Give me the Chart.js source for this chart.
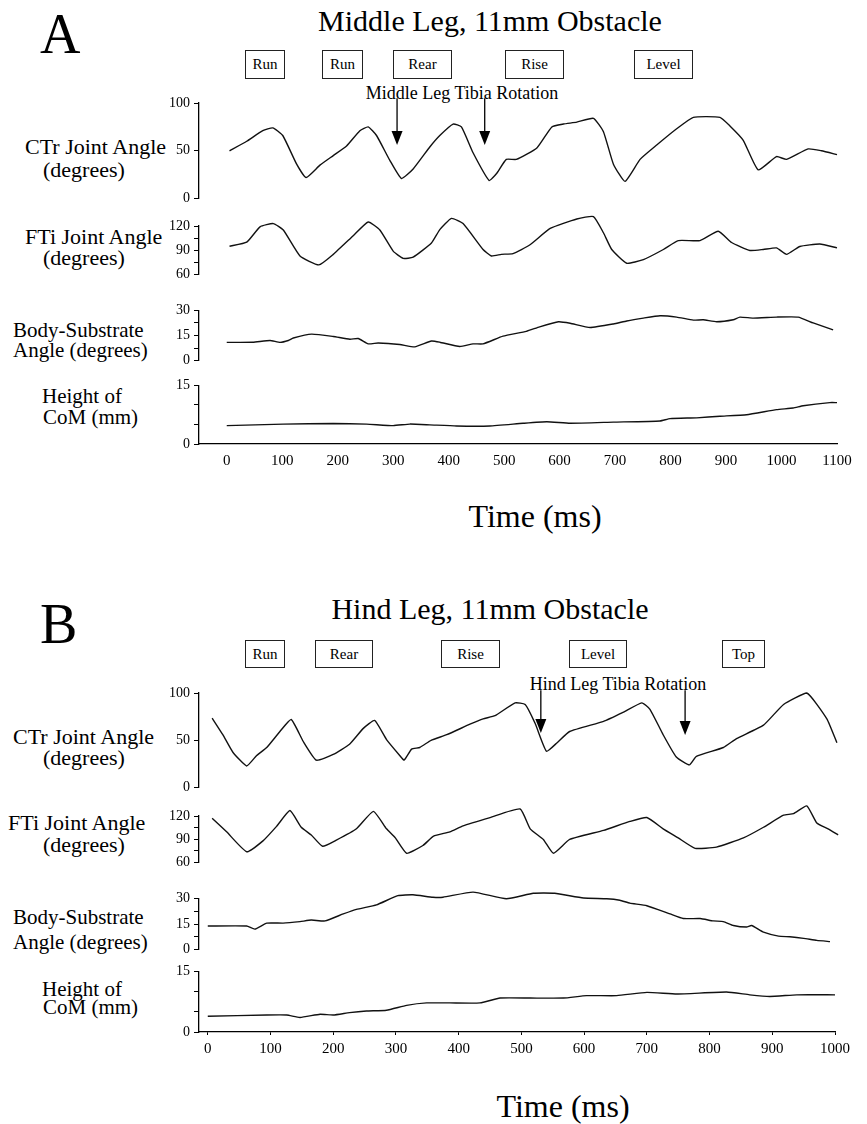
<!DOCTYPE html>
<html>
<head>
<meta charset="utf-8">
<script src="https://cdn.jsdelivr.net/npm/chart.js@4.4.0/dist/chart.umd.min.js"></script>
<style>
body { margin: 0; background: #fff; }
#page { position: relative; width: 867px; height: 1124px; overflow: hidden; font-family: "Liberation Serif", "Times New Roman", serif; color: #000; }
.t { position: absolute; white-space: nowrap; line-height: 1; }
.c { transform: translateX(-50%); }
.box { position: absolute; border: 1.5px solid #222; box-sizing: border-box; font-size: 15px; display: flex; align-items: center; justify-content: center; }
canvas { position: absolute; }
</style>
</head>
<body>
<div id="page">
  <div class="t" style="left:40px;top:6px;font-size:56px">A</div>
  <div class="t c" style="left:490px;top:6px;font-size:30px">Middle Leg, 11mm Obstacle</div>
  <div class="box" style="left:245px;top:50px;width:40px;height:29px">Run</div>
  <div class="box" style="left:322px;top:50px;width:41px;height:29px">Run</div>
  <div class="box" style="left:393px;top:50px;width:59px;height:29px">Rear</div>
  <div class="box" style="left:505px;top:50px;width:59px;height:29px">Rise</div>
  <div class="box" style="left:634px;top:50px;width:59px;height:29px">Level</div>
  <div class="t c" style="left:462px;top:84px;font-size:18px">Middle Leg Tibia Rotation</div>

  <div class="t" style="left:25px;top:136px;font-size:22px">CTr Joint Angle</div>
  <div class="t" style="left:43px;top:159px;font-size:22px">(degrees)</div>
  <div class="t" style="left:25px;top:226px;font-size:22px">FTi Joint Angle</div>
  <div class="t" style="left:43px;top:247px;font-size:22px">(degrees)</div>
  <div class="t" style="left:13px;top:320px;font-size:21px">Body-Substrate</div>
  <div class="t" style="left:13px;top:340px;font-size:21px">Angle (degrees)</div>
  <div class="t" style="left:42px;top:386px;font-size:21px">Height of</div>
  <div class="t" style="left:43px;top:407px;font-size:21px">CoM (mm)</div>
  <div class="t c" style="left:535px;top:500px;font-size:32px">Time (ms)</div>

  <div class="t" style="left:40px;top:596px;font-size:56px">B</div>
  <div class="t c" style="left:490px;top:594px;font-size:30px">Hind Leg, 11mm Obstacle</div>
  <div class="box" style="left:245px;top:640px;width:40px;height:28px">Run</div>
  <div class="box" style="left:315px;top:640px;width:58px;height:28px">Rear</div>
  <div class="box" style="left:441px;top:640px;width:59px;height:28px">Rise</div>
  <div class="box" style="left:569px;top:640px;width:58px;height:28px">Level</div>
  <div class="box" style="left:722px;top:640px;width:43px;height:28px">Top</div>
  <div class="t c" style="left:618px;top:675px;font-size:18px">Hind Leg Tibia Rotation</div>

  <div class="t" style="left:13px;top:726px;font-size:22px">CTr Joint Angle</div>
  <div class="t" style="left:43px;top:747px;font-size:22px">(degrees)</div>
  <div class="t" style="left:8px;top:812px;font-size:22px">FTi Joint Angle</div>
  <div class="t" style="left:43px;top:834px;font-size:22px">(degrees)</div>
  <div class="t" style="left:13px;top:907px;font-size:21px">Body-Substrate</div>
  <div class="t" style="left:13px;top:932px;font-size:21px">Angle (degrees)</div>
  <div class="t" style="left:42px;top:979px;font-size:21px">Height of</div>
  <div class="t" style="left:43px;top:997px;font-size:21px">CoM (mm)</div>
  <div class="t c" style="left:563px;top:1090px;font-size:32px">Time (ms)</div>
</div>

<script>
// ---- data (time in ms) ----
// A: middle leg
var ctrA_t = [5,36,65,83,101,126,143,168,192,216,240,255,270,294,315,336,366,384,408,423,444,473,486,504,522,559,586,607,631,661,679,697,718,745,775,811,841,889,907,931,958,991,1009,1048,1072,1100]
var ctrA_v = [50,60,71,74,66,36,22,35,45,55,71,75,66,40,21,31,54,66,78,75,48,19,26,41,41,53,75,78,80,84,70,36,18,41,56,73,85,85,76,61,30,44,41,52,50,46]

var ftiA_t = [5,36,60,84,102,132,166,192,228,255,276,300,318,336,369,384,405,426,462,477,495,516,546,583,631,661,679,694,721,751,787,814,853,886,910,943,967,991,1009,1033,1069,1100]
var ftiA_v = [95,100,119,123,115,83,72,85,108,125,115,89,80,81.5,99,115.5,129.4,123,91,83,85,86,96.5,117,128.7,131.7,111.7,91,74,78.5,91,102,102,113.5,99.6,89.8,91,93,85,94.7,97.7,93]

var bodyA_t = [0,47,78,96,111,120,153,192,222,237,255,273,312,339,369,384,420,444,462,498,540,564,598,619,655,697,721,751,781,811,841,859,883,913,925,949,991,1030,1057,1093]
var bodyA_v = [10.9,11,12,10.9,12,13.5,15.8,14.4,12.8,13.2,10,10.5,9.6,8.2,11.7,11,8.4,10,10,14.6,17.5,20.2,23.2,22.3,19.8,21.9,23.7,25.4,26.8,26,24.2,24.4,23.2,24.4,26,25.4,26,26,22.5,18.4]

var comA_t = [0,102,192,252,300,330,366,414,474,534,577,619,697,781,799,847,889,937,991,1021,1039,1087,1100]
var comA_v = [4.7,5.1,5.25,5.1,4.7,5.1,4.9,4.6,4.6,5.3,5.7,5.3,5.6,5.9,6.5,6.7,7.1,7.5,8.8,9.2,9.8,10.6,10.6]

// B: hind leg
var ctrB_t = [7,24,40,62,78,94,115,133,152,173,200,226,248,266,285,306,313,325,338,356,381,418,439,458,490,506,522,540,557,577,631,662,692,705,726,747,768,779,822,843,886,918,955,987,1003]
var ctrB_v = [73.4,55.9,37.4,22.9,34,42.4,59.3,72,49,29,35,45.8,62.6,71,50.8,34,29,40.7,42.4,50,55.9,67,72.7,76,89.6,87.9,67.7,38.4,47.5,59.3,70,79.5,89.6,82.8,55.9,32.3,24,33,42.4,51.8,66,87.9,100,72.7,47.5]

var ftiB_t = [7,30,62,88,110,131,149,165,183,205,237,264,285,299,317,343,360,386,407,450,498,514,535,551,577,631,673,700,726,750,777,811,854,886,918,934,955,971,989,1005]
var ftiB_v = [117,99.6,74,88,107,127,105.5,95.6,81,89,103.5,126,103.5,91.8,72,82,94,99.6,107.4,118,129,103.5,89.8,72,89.8,101.5,113,118,103.5,91.8,78.4,80,91.8,105.5,121,123,133,111,103.5,95.6]

var bodyB_t = [0,62,75,94,120,147,165,187,216,237,269,303,327,359,375,423,476,519,553,599,636,657,673,700,737,758,785,806,822,838,859,867,886,910,928,950,971,992]
var bodyB_v = [13.8,13.8,12,15.5,15.5,16.4,17.3,16.8,20.9,23.6,26.2,31.6,32.1,30.7,30.7,33.7,29.8,33,33,30.2,29.8,28.9,27.2,25.7,20.9,18.2,18.2,16.8,16.4,14.1,13.2,14.1,10.2,7.9,7.5,6.6,5.4,4.7]

var comB_t = [0,94,126,147,179,200,226,253,285,317,349,386,434,466,514,567,604,652,700,748,827,864,896,939,1000]
var comB_v = [3.9,4.2,4.2,3.6,4.4,4.2,4.8,5.2,5.4,6.6,7.2,7.2,7.2,8.4,8.4,8.4,9,9,9.8,9.4,9.9,9.2,8.8,9.2,9.2]

// time axis ticks
var xTicksA = [0,100,200,300,400,500,600,700,800,900,1000,1100]
var xTicksB = [0,100,200,300,400,500,600,700,800,900,1000]

// arrows marking tibia rotation (time, value at tip)
var tibiaA = [[307, 56], [465, 56]]
var tibiaB = [[531, 57.6], [761, 55.6]]

// ---- layout ----
var FONT = '"Liberation Serif", "Times New Roman", serif'
var panels = {
    A: { xMin: -50, xMax: 1100, right: 837, ticks: xTicksA },
    B: { xMin: -14, xMax: 1000, right: 835, ticks: xTicksB }
}

var arrowPlugin = {
    id: 'tibia',
    afterDatasetsDraw: function(chart, args, opts) {
        if (!opts.at) return
        var ctx = chart.ctx, x = chart.scales.x, y = chart.scales.y
        ctx.save()
        ctx.strokeStyle = '#000'
        ctx.fillStyle = '#000'
        ctx.lineWidth = 1.3
        opts.at.forEach(function(a) {
            var px = x.getPixelForValue(a[0])
            var tip = y.getPixelForValue(a[1])
            var top = y.getPixelForValue(opts.from)
            ctx.beginPath()
            ctx.moveTo(px, top)
            ctx.lineTo(px, tip - 12)
            ctx.stroke()
            ctx.beginPath()
            ctx.moveTo(px - 5.5, tip - 14)
            ctx.lineTo(px + 5.5, tip - 14)
            ctx.lineTo(px, tip)
            ctx.closePath()
            ctx.fill()
        })
        ctx.restore()
    }
}

function addPlot(p, top, bottom, t, v, yMin, yMax, step, shown, extra) {
    extra = extra || {}
    var panel = panels[p]
    var padTop = extra.padTop || 10
    var padBottom = extra.xAxis ? 0 : 8
    var xH = extra.xAxis ? 30 : 0
    var cv = document.createElement('canvas')
    var left = 150
    var w = panel.right + 20 - left
    var h = (bottom - top) + padTop + padBottom + xH
    cv.width = w
    cv.height = h
    cv.style.left = left + 'px'
    cv.style.top = (top - padTop) + 'px'
    document.getElementById('page').appendChild(cv)

    var pts = t.map(function(tt, i) { return { x: tt, y: v[i] } })

    new Chart(cv.getContext('2d'), {
        type: 'line',
        data: {
            datasets: [{
                data: pts,
                borderColor: '#111',
                borderWidth: 1.4,
                pointRadius: 0,
                tension: 0.15,
                clip: false
            }]
        },
        options: {
            responsive: false,
            animation: false,
            devicePixelRatio: 1,
            layout: { padding: { top: padTop, bottom: padBottom, left: 0, right: 20 } },
            plugins: {
                legend: { display: false },
                tooltip: { enabled: false },
                tibia: extra.arrows ? { at: extra.arrows, from: extra.arrowFrom } : {}
            },
            scales: {
                x: {
                    type: 'linear',
                    min: panel.xMin,
                    max: panel.xMax,
                    display: !!extra.xAxis,
                    afterFit: function(s) { s.height = xH },
                    afterBuildTicks: function(s) { s.ticks = panel.ticks.map(function(k) { return { value: k } }) },
                    ticks: {
                        color: '#000',
                        font: { family: FONT, size: 15 },
                        padding: 5,
                        maxRotation: 0,
                        autoSkip: false,
                        callback: function(val) { return String(val) }
                    },
                    grid: { drawOnChartArea: false, drawTicks: true, tickLength: 3, color: p == 'B' ? '#000' : 'rgba(0,0,0,0)' },
                    border: { display: true, color: '#000', width: 1.3 }
                },
                y: {
                    min: yMin,
                    max: yMax,
                    afterFit: function(s) { s.width = 49 },
                    ticks: {
                        stepSize: step,
                        color: '#000',
                        font: { family: FONT, size: 14 },
                        padding: 4,
                        autoSkip: false,
                        callback: function(val) { return shown.indexOf(val) > -1 ? String(val) : '' }
                    },
                    grid: { drawOnChartArea: false, drawTicks: true, tickLength: 5, color: '#000' },
                    border: { display: true, color: '#000', width: 1.3 }
                }
            }
        },
        plugins: [arrowPlugin]
    })
}

// panel A
addPlot('A', 103, 203, ctrA_t, ctrA_v, 0, 100, 50, [0, 50, 100], { padTop: 16, arrows: tibiaA, arrowFrom: 105 })
addPlot('A', 226, 279, ftiA_t, ftiA_v, 60, 120, 15, [60, 90, 120], { padTop: 16 })
addPlot('A', 308, 365, bodyA_t, bodyA_v, 0, 30, 7.5, [0, 15, 30])
addPlot('A', 383, 444, comA_t, comA_v, 0, 15, 5, [0, 15], { xAxis: true })

// panel B
addPlot('B', 693, 792, ctrB_t, ctrB_v, 0, 100, 50, [0, 50, 100], { padTop: 16, arrows: tibiaB, arrowFrom: 103 })
addPlot('B', 816, 867, ftiB_t, ftiB_v, 60, 120, 15, [60, 90, 120], { padTop: 16 })
addPlot('B', 898, 954, bodyB_t, bodyB_v, 0, 30, 7.5, [0, 15, 30], { padTop: 12 })
addPlot('B', 969, 1032, comB_t, comB_v, 0, 15, 5, [0, 15], { xAxis: true })
</script>
</body>
</html>
